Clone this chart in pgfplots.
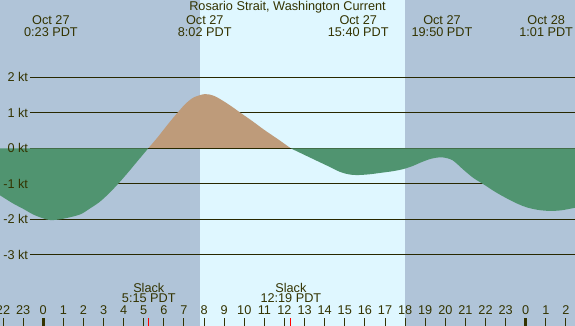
\documentclass[border=0pt]{standalone}
\usepackage{pgfplots}
\pgfplotsset{compat=1.18}
\usepackage{fontspec}
\setmainfont{Liberation Sans}
\definecolor{night}{RGB}{176,196,216}
\definecolor{day}{RGB}{223,247,255}
\definecolor{ebb}{RGB}{80,148,112}
\definecolor{flood}{RGB}{190,155,122}
\definecolor{txt}{RGB}{51,51,0}
\definecolor{gridc}{RGB}{40,40,0}
\newcommand{\lf}{\fontsize{12.7bp}{15bp}\selectfont}
\begin{document}
\begin{tikzpicture}
\begin{axis}[
  width=575bp, height=326bp, scale only axis,
  xmin=-2.15, xmax=26.45, ymin=-5.0, ymax=4.18,
  axis line style={draw=none},
  axis background/.style={fill=night},
  axis on top,
  ytick=\empty,
  xtick={-2,...,26},
  xticklabels={22,23,0,1,2,3,4,5,6,7,8,9,10,11,12,13,14,15,16,17,18,19,20,21,22,23,0,1,2},
  xtick pos=lower, xtick align=inside,
  major tick length=8.3bp,
  minor tick length=8.3bp,
  major tick style={color=txt, line width=1bp},
  minor xtick={0,24},
  minor tick style={color=txt, line width=3.2bp},
  extra x ticks={5.25,12.317},
  extra x tick labels={},
  extra x tick style={major tick style={color=red, line width=1.2bp}},
  xticklabel style={anchor=base, yshift=11bp, inner sep=0pt, font=\lf, text=txt},
]
\fill[day] (axis cs:7.796,-5) rectangle (axis cs:17.99,4.18);
\pgfplotsinvokeforeach{2,1,0,-1,-2,-3}{
  \draw[gridc, line width=1bp] (axis cs:-0.66,#1) -- (axis cs:26.45,#1);
}
% ebb 1
\addplot[fill=ebb, draw=none, smooth] coordinates {
 (-2.15,-1.32) (-1.5,-1.55) (-1,-1.7) (-0.5,-1.86) (0,-1.97) (0.38,-2.02) (1,-1.98)
 (1.83,-1.86) (2.3,-1.7) (2.82,-1.5) (3.3,-1.25) (3.72,-1.0) (4.2,-0.69)
 (4.7,-0.35) (5.22,0)
} \closedcycle;
% flood
\addplot[fill=flood, draw=none, smooth] coordinates {
 (5.22,0) (5.7,0.32) (6.2,0.68) (6.67,1.0) (7.1,1.27) (7.5,1.44) (8.04,1.53)
 (8.5,1.48) (9.0,1.32) (9.4,1.17) (9.82,1.0) (10.4,0.77) (11.0,0.52)
 (11.7,0.25) (12.32,0)
} \closedcycle;
% ebb 2
\addplot[fill=ebb, draw=none, smooth] coordinates {
 (12.32,0) (13.43,-0.30) (14.1,-0.48) (14.76,-0.66) (15.2,-0.73) (15.6,-0.75)
 (16.2,-0.73) (16.75,-0.69) (17.4,-0.64) (17.92,-0.58) (18.4,-0.49) (18.8,-0.39)
 (19.3,-0.29) (19.82,-0.25) (20.35,-0.33) (20.9,-0.60) (21.39,-0.83)
 (21.9,-1.01) (22.5,-1.23) (23.1,-1.42) (23.6,-1.56) (24.05,-1.66) (24.6,-1.73)
 (25.2,-1.76) (25.8,-1.74) (26.45,-1.67)
} \closedcycle;
\draw[gridc, line width=1bp] (axis cs:5.22,0) -- (axis cs:12.32,0);
% y labels
\pgfplotsinvokeforeach{2,1,0}{
  \node[anchor=base east, yshift=-4.4bp, inner sep=0pt, font=\lf, text=txt] at (axis cs:-0.746,#1) {#1 kt};
}
\pgfplotsinvokeforeach{1,2,3}{
  \node[anchor=base east, yshift=-4.4bp, inner sep=0pt, font=\lf, text=txt] at (axis cs:-0.746,-#1) {-#1 kt};
}
% title
\node[anchor=base, inner sep=0pt, font=\lf, text=txt] at (rel axis cs:0.5,0) [yshift=315bp] {Rosario Strait, Washington Current};
% events
\node[anchor=base, inner sep=0pt, font=\lf, text=txt] at (axis cs:0.383,3.501) {Oct 27};
\node[anchor=base, inner sep=0pt, font=\lf, text=txt] at (axis cs:0.383,3.144) {0:23 PDT};
\node[anchor=base, inner sep=0pt, font=\lf, text=txt] at (axis cs:8.033,3.501) {Oct 27};
\node[anchor=base, inner sep=0pt, font=\lf, text=txt] at (axis cs:8.033,3.144) {8:02 PDT};
\node[anchor=base, inner sep=0pt, font=\lf, text=txt] at (axis cs:15.667,3.501) {Oct 27};
\node[anchor=base, inner sep=0pt, font=\lf, text=txt] at (axis cs:15.667,3.144) {15:40 PDT};
\node[anchor=base, inner sep=0pt, font=\lf, text=txt] at (axis cs:19.833,3.501) {Oct 27};
\node[anchor=base, inner sep=0pt, font=\lf, text=txt] at (axis cs:19.833,3.144) {19:50 PDT};
\node[anchor=base, inner sep=0pt, font=\lf, text=txt] at (axis cs:25.017,3.501) {Oct 28};
\node[anchor=base, inner sep=0pt, font=\lf, text=txt] at (axis cs:25.017,3.144) {1:01 PDT};
% slack
\node[anchor=base, inner sep=0pt, font=\lf, text=txt] at (axis cs:5.25,-4.068) {Slack};
\node[anchor=base, inner sep=0pt, font=\lf, text=txt] at (axis cs:5.25,-4.349) {5:15 PDT};
\node[anchor=base, inner sep=0pt, font=\lf, text=txt] at (axis cs:12.317,-4.068) {Slack};
\node[anchor=base, inner sep=0pt, font=\lf, text=txt] at (axis cs:12.317,-4.349) {12:19 PDT};
\coordinate (SW) at (rel axis cs:0,0);
\coordinate (NE) at (rel axis cs:1,1);
\end{axis}
\pgfresetboundingbox
\useasboundingbox (SW) rectangle (NE);
\end{tikzpicture}
\end{document}
